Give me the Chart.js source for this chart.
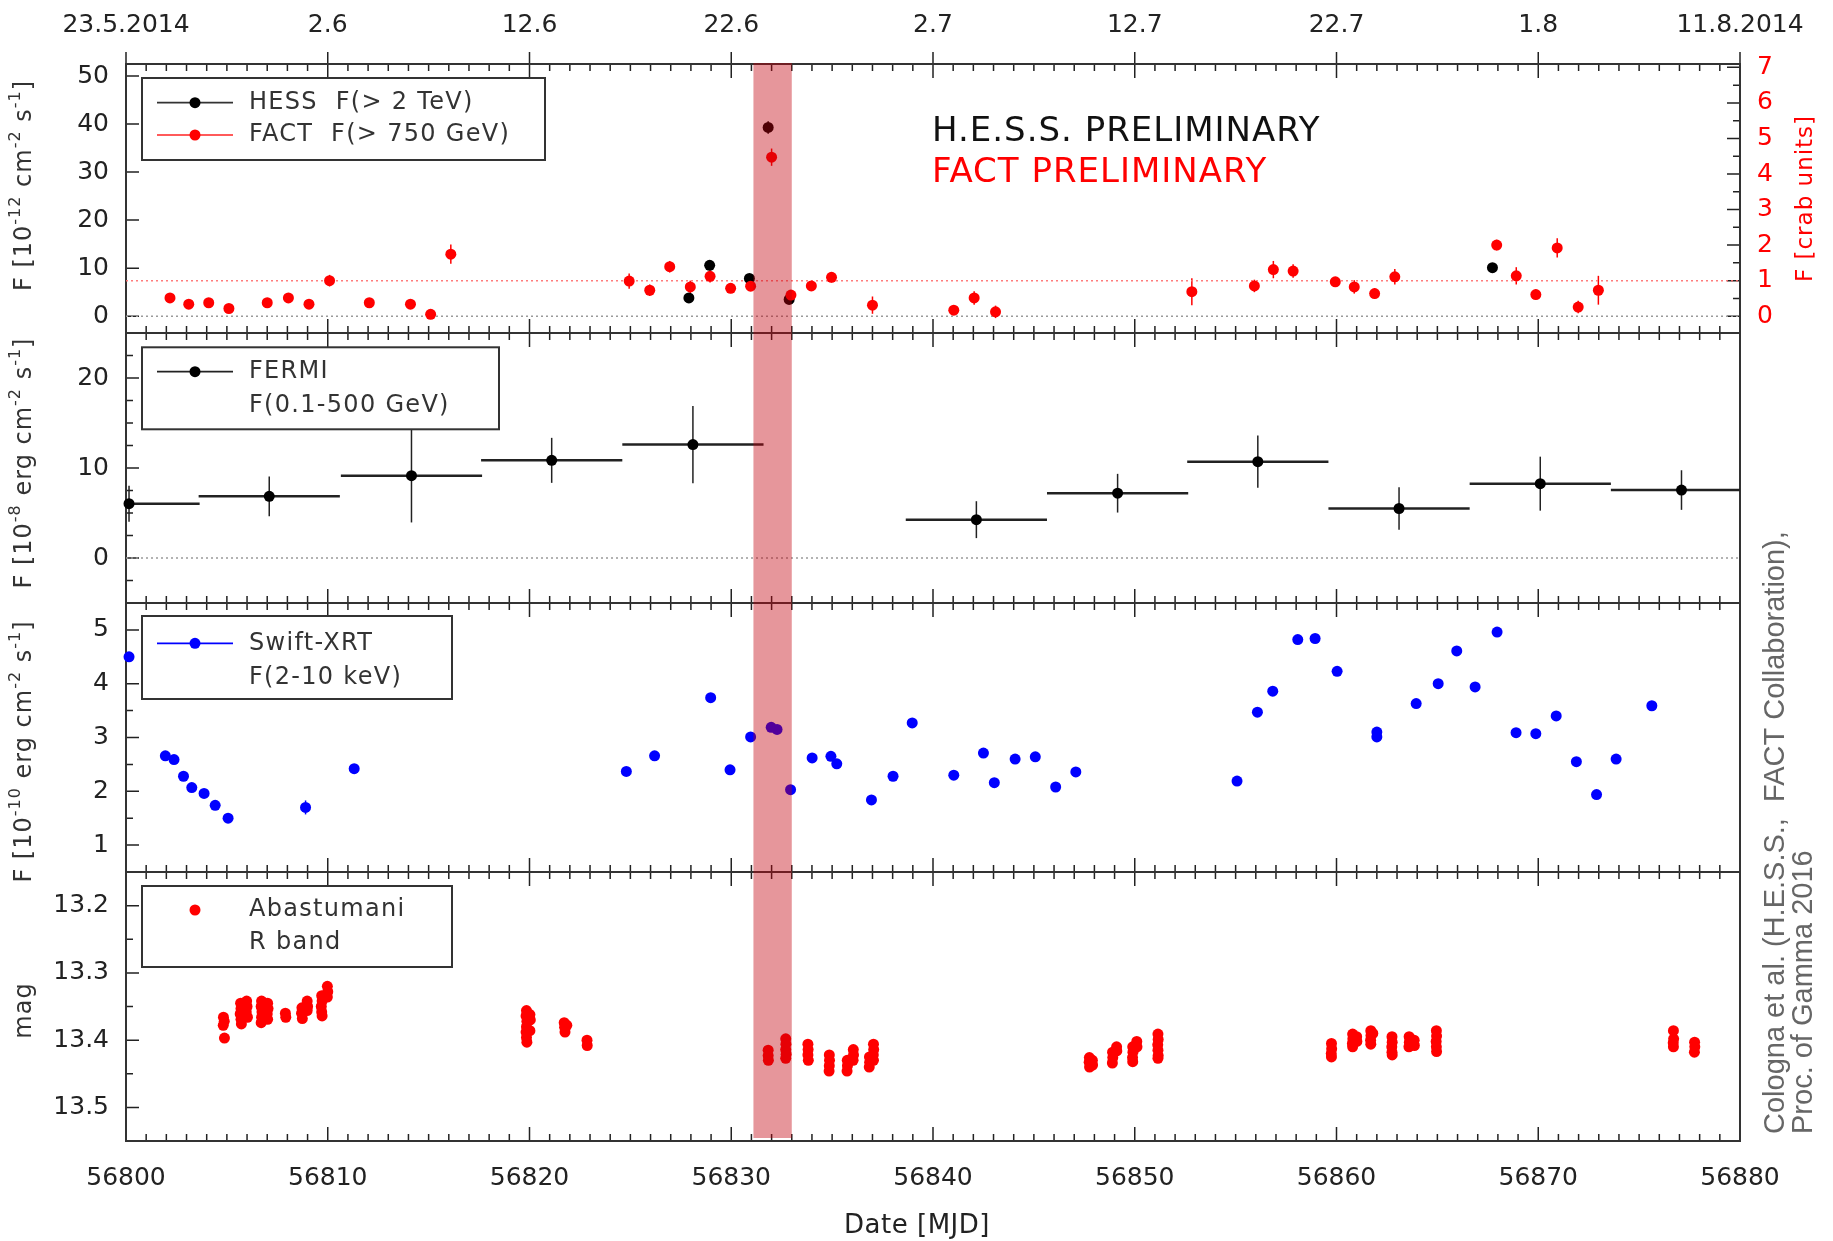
<!DOCTYPE html>
<html>
<head>
<meta charset="utf-8">
<title>Mrk 501 multiwavelength light curve 2014</title>
<script src="https://cdn.jsdelivr.net/npm/chart.js@4.4.1/dist/chart.umd.min.js"></script>
<style>
  html, body { margin: 0; padding: 0; background: #fff; }
  #wrap { position: relative; width: 1833px; height: 1241px; overflow: hidden; }
  .panel { position: absolute; left: 0; width: 1833px; }
</style>
</head>
<body>
<div id="wrap">
  <div class="panel" style="top:0;height:373px"><canvas id="c1"></canvas></div>
  <div class="panel" style="top:293px;height:350px"><canvas id="c2"></canvas></div>
  <div class="panel" style="top:563px;height:349px"><canvas id="c3"></canvas></div>
  <div class="panel" style="top:480px;height:761px"><canvas id="c4"></canvas></div>
</div>
<script>
// time axis
const mjdMin = 56800, mjdMax = 56880;
const mjdTicks = [56800, 56810, 56820, 56830, 56840, 56850, 56860, 56870, 56880];
const dateLabels = ['23.5.2014', '2.6', '12.6', '22.6', '2.7', '12.7', '22.7', '1.8', '11.8.2014'];
const flareStart = 56831.1, flareEnd = 56833.0;

// H.E.S.S. F(>2 TeV) [1e-12 cm-2 s-1]
const hessMjd  = [56827.9, 56828.93, 56830.9, 56831.83, 56832.87, 56867.73];
const hessFlux = [3.8, 10.6, 7.85, 39.3, 3.5, 10.1];
const hessErr  = [0.8, 0.9, 0.9, 1.3, 0.7, 0.9];

// FACT F(>750 GeV)
const factMjd = [56802.18, 56803.11, 56804.1, 56805.1, 56807.0, 56808.05, 56809.07, 56810.09, 56812.06, 56814.1, 56815.1, 56816.1,
                 56824.94, 56825.96, 56826.95, 56827.97, 56828.95, 56829.97, 56830.96, 56832.0, 56832.96, 56833.97, 56834.97, 56837.0,
                 56841.03, 56842.04, 56843.1,
                 56852.83, 56855.93, 56856.87, 56857.85, 56859.94, 56860.88, 56861.89, 56862.89,
                 56867.94, 56868.91, 56869.88, 56870.94, 56871.98, 56872.98];
const factFlux = [3.8, 2.5, 2.8, 1.6, 2.8, 3.8, 2.5, 7.4, 2.8, 2.5, 0.4, 12.9,
                  7.3, 5.4, 10.3, 6.1, 8.3, 5.8, 6.25, 33.1, 4.4, 6.3, 8.1, 2.3,
                  1.25, 3.8, 0.9,
                  5.1, 6.3, 9.7, 9.4, 7.15, 6.1, 4.7, 8.2,
                  14.8, 8.4, 4.5, 14.2, 1.9, 5.4];
const factErr  = [1.0, 0.9, 0.9, 0.9, 0.9, 1.0, 0.9, 1.2, 0.9, 1.0, 1.0, 2.0,
                  1.6, 1.2, 1.2, 1.3, 1.3, 1.0, 1.0, 1.8, 1.0, 1.0, 1.1, 1.8,
                  1.0, 1.4, 1.3,
                  2.8, 1.3, 1.8, 1.4, 1.0, 1.4, 1.1, 1.6,
                  1.1, 1.8, 1.0, 2.0, 1.3, 3.0];
const crabFlux = 7.4;   // 1 crab unit on the left axis scale

// Fermi-LAT F(0.1-500 GeV) [1e-8 erg cm-2 s-1], weekly bins
const fermiMjd  = [56800.15, 56807.1, 56814.15, 56821.1, 56828.1, 56842.15, 56849.15, 56856.1, 56863.1, 56870.1, 56877.1];
const fermiFlux = [6.04, 6.85, 9.15, 10.85, 12.6, 4.26, 7.2, 10.7, 5.5, 8.26, 7.55];
const fermiErr  = [2.0, 2.2, 5.2, 2.5, 4.3, 2.05, 2.15, 2.9, 2.35, 3.0, 2.2];
const fermiHalfBin = 3.5;

// Swift-XRT F(2-10 keV) [1e-10 erg cm-2 s-1]
const swiftMjd = [56800.15, 56801.95, 56802.38, 56802.85, 56803.26, 56803.87, 56804.42, 56805.06, 56808.9, 56811.31,
                  56824.8, 56826.2, 56828.98, 56829.94, 56830.96, 56831.98, 56832.27, 56832.94, 56834.01, 56834.94,
                  56835.23, 56836.95, 56838.02, 56838.97, 56841.03, 56842.5, 56843.04, 56844.07, 56845.07, 56846.08,
                  56847.08, 56855.07, 56856.08, 56856.84, 56858.08, 56858.94, 56860.03, 56862.0, 56862.0, 56863.95,
                  56865.04, 56865.96, 56866.87, 56867.96, 56868.9, 56869.88, 56870.89, 56871.89, 56872.89, 56873.86,
                  56875.63];
const swiftFlux = [4.5, 2.66, 2.59, 2.28, 2.07, 1.96, 1.74, 1.50, 1.70, 2.42,
                   2.37, 2.66, 3.74, 2.40, 3.01, 3.19, 3.15, 2.03, 2.62, 2.65,
                   2.51, 1.84, 2.28, 3.27, 2.30, 2.71, 2.16, 2.60, 2.64, 2.08,
                   2.36, 2.19, 3.47, 3.86, 4.82, 4.84, 4.23, 3.10, 3.01, 3.63,
                   4.00, 4.61, 3.94, 4.96, 3.09, 3.07, 3.40, 2.55, 1.94, 2.60,
                   3.59];
const swiftErr = [0.05, 0.05, 0.05, 0.05, 0.05, 0.05, 0.05, 0.05, 0.13, 0.05,
                  0.05, 0.05, 0.05, 0.05, 0.05, 0.05, 0.05, 0.05, 0.05, 0.05,
                  0.05, 0.05, 0.05, 0.05, 0.05, 0.05, 0.05, 0.05, 0.05, 0.05,
                  0.05, 0.05, 0.05, 0.05, 0.05, 0.05, 0.05, 0.05, 0.05, 0.05,
                  0.05, 0.05, 0.05, 0.05, 0.05, 0.05, 0.05, 0.05, 0.05, 0.05,
                  0.05];

// Abastumani R band [mag], one line per night
const abasMjd = [
  56804.83, 56804.87, 56804.82, 56804.88,
  56805.68, 56805.70, 56805.66, 56805.70, 56805.72, 56805.98, 56806.00, 56805.96, 56806.02,
  56806.72, 56806.70, 56806.74, 56806.72, 56806.70, 56807.02, 56807.04, 56807.00, 56807.02,
  56807.90, 56807.92, 56808.72, 56808.70, 56808.74, 56808.98, 56809.00, 56808.98,
  56809.70, 56809.72, 56809.68, 56809.70, 56809.72, 56809.98, 56810.00, 56809.98,
  56819.85, 56819.83, 56819.87, 56819.85, 56819.83, 56819.85, 56819.87, 56820.02, 56820.04, 56820.02,
  56821.72, 56821.74, 56821.76, 56821.85, 56822.85, 56822.86,
  56831.83, 56831.83, 56831.84, 56832.70, 56832.71, 56832.70, 56832.72, 56832.70,
  56833.80, 56833.81, 56833.80, 56833.82, 56834.86, 56834.87, 56834.86, 56834.85,
  56835.75, 56835.76, 56835.74, 56836.05, 56836.06, 56836.04,
  56836.85, 56836.86, 56836.84, 56837.05, 56837.06, 56837.04, 56837.05,
  56847.75, 56847.74, 56847.76, 56847.90, 56847.91, 56848.90, 56848.91, 56848.89, 56849.10, 56849.11,
  56849.90, 56849.91, 56849.89, 56849.90, 56850.10, 56850.11,
  56851.15, 56851.16, 56851.14, 56851.15, 56851.16, 56851.15,
  56859.75, 56859.76, 56859.74, 56859.75, 56860.80, 56860.81, 56860.79, 56860.80, 56861.00, 56861.01,
  56861.70, 56861.71, 56861.69, 56861.70, 56861.80, 56862.75, 56862.76, 56862.74, 56862.75, 56862.76,
  56863.60, 56863.61, 56863.59, 56863.85, 56863.86, 56864.95, 56864.96, 56864.94, 56864.95, 56864.96,
  56876.70, 56876.71, 56876.69, 56876.70, 56877.75, 56877.76, 56877.74
];
const abasMag = [
  13.366, 13.372, 13.378, 13.397,
  13.345, 13.353, 13.361, 13.369, 13.376, 13.342, 13.350, 13.358, 13.366,
  13.342, 13.350, 13.358, 13.366, 13.374, 13.345, 13.353, 13.361, 13.369,
  13.360, 13.366, 13.352, 13.360, 13.368, 13.342, 13.350, 13.356,
  13.334, 13.342, 13.350, 13.358, 13.364, 13.320, 13.328, 13.336,
  13.356, 13.364, 13.372, 13.380, 13.388, 13.396, 13.403, 13.362, 13.370, 13.386,
  13.374, 13.381, 13.388, 13.378, 13.400, 13.408,
  13.415, 13.423, 13.430, 13.398, 13.406, 13.414, 13.421, 13.427,
  13.406, 13.414, 13.422, 13.430, 13.422, 13.430, 13.438, 13.446,
  13.430, 13.438, 13.446, 13.414, 13.422, 13.430,
  13.425, 13.433, 13.440, 13.406, 13.414, 13.422, 13.430,
  13.426, 13.433, 13.440, 13.430, 13.437, 13.418, 13.426, 13.434, 13.410, 13.416,
  13.410, 13.418, 13.426, 13.432, 13.402, 13.410,
  13.391, 13.399, 13.407, 13.415, 13.423, 13.427,
  13.405, 13.413, 13.420, 13.425, 13.391, 13.398, 13.405, 13.410, 13.395, 13.402,
  13.386, 13.393, 13.400, 13.406, 13.390, 13.395, 13.403, 13.410, 13.418, 13.422,
  13.395, 13.403, 13.410, 13.400, 13.408, 13.386, 13.394, 13.402, 13.410, 13.417,
  13.386, 13.398, 13.404, 13.410, 13.403, 13.410, 13.418
];

// axis ticks
const fluxTicks  = [0, 10, 20, 30, 40, 50];
const crabTicks  = [0, 1, 2, 3, 4, 5, 6, 7];
const fermiTicks = [0, 10, 20];
const swiftTicks = [1, 2, 3, 4, 5];
const magTicks   = [13.2, 13.3, 13.4, 13.5];

const INK = '#222';
const tickFont = { family: 'DejaVu Sans', size: 25 };

function pts(xs, ys) { return xs.map((x, i) => ({ x, y: ys[i] })); }

function yTickMarks(ctx, s, x0, dir, minor) {
  const majors = s.ticks.map(t => t.value);
  majors.forEach(v => {
    const py = s.getPixelForValue(v);
    ctx.moveTo(x0, py); ctx.lineTo(x0 + dir * 13, py);
  });
  if (!minor) return;
  const lo = Math.min(s.min, s.max), hi = Math.max(s.min, s.max);
  for (let k = Math.ceil(lo / minor - 1e-9); k * minor <= hi + 1e-9; k++) {
    const v = k * minor;
    if (majors.some(m => Math.abs(m - v) < 1e-6)) continue;
    const py = s.getPixelForValue(v);
    ctx.moveTo(x0, py); ctx.lineTo(x0 + dir * 7, py);
  }
}

// rotated text with superscripts, centred on (cx, cy), reading bottom to top
function drawRotated(ctx, parts, cx, cy, color, size, family) {
  ctx.save();
  ctx.translate(cx, cy);
  ctx.rotate(-Math.PI / 2);
  ctx.fillStyle = color;
  ctx.textBaseline = 'middle';
  ctx.letterSpacing = '1px';
  const big = size + 'px "' + family + '"';
  const small = Math.round(size * 0.68) + 'px "' + family + '"';
  let w = 0;
  parts.forEach(([t, sup]) => { ctx.font = sup ? small : big; w += ctx.measureText(t).width; });
  let x = -w / 2;
  parts.forEach(([t, sup]) => {
    ctx.font = sup ? small : big;
    ctx.fillText(t, x, sup ? -size * 0.38 : 0);
    x += ctx.measureText(t).width;
  });
  ctx.restore();
}

function drawLegend(ctx, a, lg) {
  const bx = a.left + lg.x, by = a.top + lg.y;
  ctx.save();
  ctx.fillStyle = '#fff';
  ctx.fillRect(bx, by, lg.w, lg.h);
  ctx.strokeStyle = '#333'; ctx.lineWidth = 2;
  ctx.strokeRect(bx, by, lg.w, lg.h);
  ctx.font = '24px "DejaVu Sans"';
  ctx.textBaseline = 'middle';
  ctx.letterSpacing = '1.3px';
  lg.rows.forEach(r => {
    const y = a.top + r.y;
    if (r.line) {
      ctx.strokeStyle = r.line; ctx.lineWidth = 1.8;
      ctx.beginPath(); ctx.moveTo(bx + 15, y); ctx.lineTo(bx + 91, y); ctx.stroke();
    }
    if (r.marker) {
      ctx.fillStyle = r.marker;
      ctx.beginPath(); ctx.arc(bx + 53, y, 5.5, 0, Math.PI * 2); ctx.fill();
    }
    ctx.fillStyle = '#333';
    ctx.fillText(r.text, bx + 107, y);
  });
  ctx.restore();
}

const decor = {
  id: 'decor',
  beforeDatasetsDraw(chart) {
    const o = chart.options.plugins.decor;
    if (!o) return;
    const { ctx, chartArea: a, scales } = chart;
    ctx.save();
    ctx.strokeStyle = INK; ctx.lineWidth = 1.5;
    ctx.beginPath();
    for (let d = mjdMin; d <= mjdMax; d++) {
      const px = scales.x.getPixelForValue(d);
      const major = mjdTicks.includes(d);
      const len = major ? 14 : 7;
      ctx.moveTo(px, a.top); ctx.lineTo(px, a.top + len);
      ctx.moveTo(px, a.bottom); ctx.lineTo(px, a.bottom - len);
      if (o.outerTop && major) { ctx.moveTo(px, a.top); ctx.lineTo(px, a.top - 12); }
    }
    yTickMarks(ctx, scales.y, a.left, 1, o.yMinor);
    if (scales.yCrab) yTickMarks(ctx, scales.yCrab, a.right, -1, 0.5);
    ctx.stroke();
    ctx.strokeStyle = '#333'; ctx.lineWidth = 2;
    ctx.strokeRect(a.left, a.top, a.width, a.height);
    ctx.restore();
  },
  afterDatasetsDraw(chart) {
    const o = chart.options.plugins.decor;
    if (!o) return;
    const { ctx, chartArea: a } = chart;
    if (o.legend) drawLegend(ctx, a, o.legend);
    (o.texts || []).forEach(t => {
      ctx.save();
      ctx.font = t.font; ctx.fillStyle = t.color;
      ctx.textBaseline = 'middle'; ctx.textAlign = t.align || 'left';
      ctx.letterSpacing = t.spacing || '0px';
      ctx.fillText(t.text, a.left + t.x, t.fromBottom ? a.bottom + t.y : a.top + t.y);
      ctx.restore();
    });
    (o.titles || []).forEach(t => {
      const cx = t.side === 'right' ? a.right + t.x : t.x;
      drawRotated(ctx, t.parts, cx, (a.top + a.bottom) / 2 + t.dy, t.color, t.size, t.family || 'DejaVu Sans');
    });
    (o.notes || []).forEach(n => {
      ctx.save();
      ctx.translate(a.right + n.x, a.bottom + n.y);
      ctx.rotate(-Math.PI / 2);
      ctx.font = n.font; ctx.fillStyle = n.color;
      ctx.textBaseline = 'middle'; ctx.textAlign = 'left';
      ctx.fillText(n.text, 0, 0);
      ctx.restore();
    });
  },
  afterDraw(chart) {
    const o = chart.options.plugins.decor;
    if (!o) return;
    const { ctx, chartArea: a, scales } = chart;
    const x0 = scales.x.getPixelForValue(flareStart), x1 = scales.x.getPixelForValue(flareEnd);
    const top = a.top - 1, bottom = a.bottom + (o.bandBottom !== undefined ? o.bandBottom : 1);
    ctx.save();
    ctx.fillStyle = 'rgba(195, 0, 12, 0.41)';
    ctx.fillRect(x0, top, x1 - x0, bottom - top);
    ctx.restore();
  }
};

const errorBars = {
  id: 'errorBars',
  beforeDatasetsDraw(chart) {
    const { ctx, chartArea: a } = chart;
    ctx.save();
    ctx.beginPath(); ctx.rect(a.left, a.top, a.width, a.height); ctx.clip();
    chart.data.datasets.forEach((ds, i) => {
      if (!ds.errY && !ds.errX) return;
      const meta = chart.getDatasetMeta(i);
      const xs = chart.scales[meta.xAxisID], ys = chart.scales[meta.yAxisID];
      ctx.strokeStyle = ds.errColor;
      ds.data.forEach((p, j) => {
        const px = xs.getPixelForValue(p.x), py = ys.getPixelForValue(p.y);
        if (ds.errY) {
          ctx.lineWidth = 1.5;
          ctx.beginPath();
          ctx.moveTo(px, ys.getPixelForValue(p.y - ds.errY[j]));
          ctx.lineTo(px, ys.getPixelForValue(p.y + ds.errY[j]));
          ctx.stroke();
        }
        if (ds.errX) {
          ctx.lineWidth = 2.5;
          ctx.beginPath();
          ctx.moveTo(xs.getPixelForValue(p.x - ds.errX), py);
          ctx.lineTo(xs.getPixelForValue(p.x + ds.errX), py);
          ctx.stroke();
        }
      });
    });
    ctx.restore();
  }
};

Chart.register(decor, errorBars);

function xScale(extra) {
  return Object.assign({
    type: 'linear', min: mjdMin, max: mjdMax, display: false,
    grid: { display: false, drawTicks: false }, border: { display: false },
    afterBuildTicks: s => { s.ticks = mjdTicks.map(v => ({ value: v })); }
  }, extra);
}

function yScale(min, max, ticks, extra) {
  return Object.assign({
    type: 'linear', position: 'left', min, max,
    grid: { display: false, drawTicks: false }, border: { display: false },
    afterBuildTicks: s => { s.ticks = ticks.map(v => ({ value: v })); },
    afterFit: s => { s.width = 126; },
    ticks: { padding: 17, color: INK, font: tickFont }
  }, extra);
}

function scatterSet(xs, ys, color, extra) {
  return Object.assign({
    type: 'scatter', data: pts(xs, ys),
    pointRadius: 5.5, pointHoverRadius: 5.5, pointBorderWidth: 0,
    pointBackgroundColor: color, backgroundColor: color, borderColor: color,
    clip: false
  }, extra);
}

function refLine(y, color, axis) {
  return {
    type: 'line', data: [{ x: mjdMin, y }, { x: mjdMax, y }],
    borderColor: color, borderWidth: 1.5, borderDash: [2, 3], pointRadius: 0,
    yAxisID: axis || 'y', order: 10
  };
}

function baseOptions(padding, scales, decorOpts) {
  return {
    responsive: true, maintainAspectRatio: false, animation: false, events: [],
    layout: { padding },
    scales,
    plugins: { legend: { display: false }, tooltip: { enabled: false }, decor: decorOpts }
  };
}

const fluxMin = -3.5, fluxMax = 52.5;

// panel 1: H.E.S.S. and FACT
new Chart(document.getElementById('c1'), {
  type: 'scatter',
  data: {
    datasets: [
      refLine(0, '#9a9a9a'),
      refLine(1, 'rgba(255, 110, 110, 0.9)', 'yCrab'),
      scatterSet(hessMjd, hessFlux, '#000', { errY: hessErr, errColor: '#000', order: 2 }),
      scatterSet(factMjd, factFlux, '#ff0000', { errY: factErr, errColor: '#ff0000', order: 1 })
    ]
  },
  options: baseOptions({ top: 0, bottom: 40, left: 0, right: 0 }, {
    x: xScale({
      display: true, position: 'top',
      afterFit: s => { s.height = 64; },
      ticks: { autoSkip: false, maxRotation: 0, padding: 24, color: INK, font: tickFont,
               callback: (v, i) => dateLabels[i] }
    }),
    y: yScale(fluxMin, fluxMax, fluxTicks),
    yCrab: {
      type: 'linear', position: 'right', min: fluxMin / crabFlux, max: fluxMax / crabFlux,
      grid: { display: false, drawTicks: false }, border: { display: false },
      afterBuildTicks: s => { s.ticks = crabTicks.map(v => ({ value: v })); },
      afterFit: s => { s.width = 93; },
      ticks: { padding: 17, color: '#ff0000', font: tickFont }
    }
  }, {
    outerTop: true, yMinor: null,
    legend: { x: 16, y: 14, w: 403, h: 82, rows: [
      { y: 38.7, text: 'HESS  F(> 2 TeV)', line: '#333', marker: '#000' },
      { y: 71, text: 'FACT  F(> 750 GeV)', line: '#ff5a5a', marker: '#ff0000' }
    ] },
    texts: [
      { text: 'H.E.S.S. PRELIMINARY', x: 806, y: 68, color: '#111', font: '34px "DejaVu Sans"', spacing: '1px' },
      { text: 'FACT PRELIMINARY', x: 806, y: 109.5, color: '#ff0000', font: '34px "DejaVu Sans"', spacing: '1px' }
    ],
    titles: [
      { parts: [['F [10', 0], ['-12', 1], [' cm', 0], ['-2', 1], [' s', 0], ['-1', 1], [']', 0]],
        x: 25, dy: -13, color: '#333', size: 24 },
      { parts: [['F [crab units]', 0]], side: 'right', x: 66, dy: 0, color: '#ff0000', size: 23 }
    ]
  })
});

// panel 2: Fermi-LAT
new Chart(document.getElementById('c2'), {
  type: 'scatter',
  data: {
    datasets: [
      refLine(0, '#9a9a9a'),
      scatterSet(fermiMjd, fermiFlux, '#000', { errY: fermiErr, errX: fermiHalfBin, errColor: '#222' })
    ]
  },
  options: baseOptions({ top: 40, bottom: 40, left: 0, right: 93 }, {
    x: xScale({}),
    y: yScale(-5, 25, fermiTicks)
  }, {
    yMinor: 2.5,
    legend: { x: 16, y: 14.3, w: 357, h: 82, rows: [
      { y: 38.7, text: 'FERMI', line: '#222', marker: '#000' },
      { y: 73, text: 'F(0.1-500 GeV)' }
    ] },
    titles: [
      { parts: [['F [10', 0], ['-8', 1], [' erg cm', 0], ['-2', 1], [' s', 0], ['-1', 1], [']', 0]],
        x: 25, dy: -5, color: '#333', size: 24 }
    ]
  })
});

// panel 3: Swift-XRT
new Chart(document.getElementById('c3'), {
  type: 'scatter',
  data: {
    datasets: [
      scatterSet(swiftMjd, swiftFlux, '#0000ff', { errY: swiftErr, errColor: '#0000ff' })
    ]
  },
  options: baseOptions({ top: 40, bottom: 40, left: 0, right: 93 }, {
    x: xScale({}),
    y: yScale(0.5, 5.5, swiftTicks)
  }, {
    yMinor: 0.5,
    legend: { x: 16, y: 13, w: 310, h: 83, rows: [
      { y: 40.3, text: 'Swift-XRT', line: '#0000ff', marker: '#0000ff' },
      { y: 74.3, text: 'F(2-10 keV)' }
    ] },
    titles: [
      { parts: [['F [10', 0], ['-10', 1], [' erg cm', 0], ['-2', 1], [' s', 0], ['-1', 1], [']', 0]],
        x: 25, dy: 14, color: '#333', size: 24 }
    ]
  })
});

// panel 4: Abastumani R band
new Chart(document.getElementById('c4'), {
  type: 'scatter',
  data: {
    datasets: [
      scatterSet(abasMjd, abasMag, '#ff0000')
    ]
  },
  options: baseOptions({ top: 392, bottom: 0, left: 0, right: 93 }, {
    x: xScale({
      display: true, position: 'bottom',
      afterFit: s => { s.height = 100; },
      ticks: { autoSkip: false, maxRotation: 0, padding: 22, color: INK, font: tickFont,
               callback: v => String(v) }
    }),
    y: yScale(13.15, 13.55, magTicks, {
      reverse: true,
      ticks: { padding: 17, color: INK, font: tickFont, callback: v => v.toFixed(1) }
    })
  }, {
    yMinor: 0.05, bandBottom: -3,
    legend: { x: 16, y: 14, w: 310, h: 81, rows: [
      { y: 38, text: 'Abastumani', marker: '#ff0000' },
      { y: 71, text: 'R band' }
    ] },
    texts: [
      { text: 'Date [MJD]', x: 791, y: 85, fromBottom: true, align: 'center', color: INK,
        font: '26px "DejaVu Sans"', spacing: '0.5px' }
    ],
    titles: [
      { parts: [['mag', 0]], x: 25, dy: 4, color: '#333', size: 24 }
    ],
    notes: [
      { text: 'Cologna et al. (H.E.S.S.,  FACT Collaboration),', x: 36, y: -7, color: '#666', font: '29px "Liberation Sans"' },
      { text: 'Proc. of Gamma 2016', x: 64, y: -7, color: '#666', font: '29px "Liberation Sans"' }
    ]
  })
});
</script>
</body>
</html>
